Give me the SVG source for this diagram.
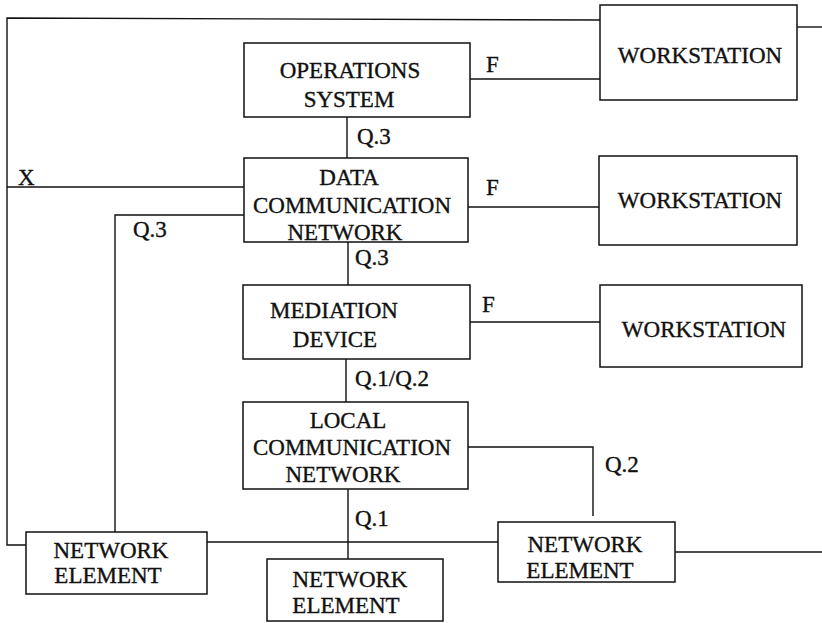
<svg xmlns="http://www.w3.org/2000/svg" width="822" height="623" viewBox="0 0 822 623">
<style>
.box{fill:none;stroke:#111;stroke-width:1.5}
.ln{fill:none;stroke:#111;stroke-width:1.4}
text{font-family:"Liberation Serif","Times New Roman",serif;font-size:23px;fill:#111;stroke:#111;stroke-width:0.35}
.c{text-anchor:middle}
</style>
<rect width="822" height="623" fill="#fff"/>
<g id="connectors">
<polyline class="ln" points="600,20 7,18 7,545 26,545"/>
<line class="ln" x1="797" y1="27" x2="822" y2="27"/>
<line class="ln" x1="470" y1="79" x2="600" y2="79"/>
<line class="ln" x1="347" y1="117" x2="347" y2="158"/>
<line class="ln" x1="7" y1="187" x2="244" y2="187"/>
<polyline class="ln" points="244,215 115,215 115,532"/>
<line class="ln" x1="468" y1="207" x2="599" y2="207"/>
<line class="ln" x1="348" y1="242" x2="348" y2="285"/>
<line class="ln" x1="470" y1="322" x2="600" y2="322"/>
<line class="ln" x1="346" y1="359" x2="346" y2="402"/>
<polyline class="ln" points="468,447 593,447 593,516"/>
<line class="ln" x1="348" y1="489" x2="348" y2="559"/>
<line class="ln" x1="207" y1="542" x2="498" y2="542"/>
<line class="ln" x1="675" y1="552" x2="822" y2="552"/>
<text x="18" y="185">X</text>
<text x="486" y="72">F</text>
<text x="486" y="195">F</text>
<text x="482" y="312">F</text>
<text x="357" y="144">Q.3</text>
<text x="133" y="237">Q.3</text>
<text x="355" y="265">Q.3</text>
<text x="355" y="386">Q.1/Q.2</text>
<text x="605" y="472">Q.2</text>
<text x="355" y="526">Q.1</text>
</g>
<g id="operations-system">
<rect class="box" x="244" y="43" width="226" height="74"/>
<text class="c" x="350" y="78">OPERATIONS</text>
<text class="c" x="349" y="107">SYSTEM</text>
</g>
<g id="workstation-1">
<rect class="box" x="600" y="5" width="197" height="95"/>
<text class="c" x="700" y="63">WORKSTATION</text>
</g>
<g id="dcn">
<rect class="box" x="244" y="158" width="224" height="84"/>
<text class="c" x="349" y="185">DATA</text>
<text class="c" x="352" y="213">COMMUNICATION</text>
<text class="c" x="345" y="240">NETWORK</text>
</g>
<g id="workstation-2">
<rect class="box" x="599" y="156" width="198" height="89"/>
<text class="c" x="700" y="208">WORKSTATION</text>
</g>
<g id="mediation-device">
<rect class="box" x="243" y="285" width="227" height="74"/>
<text class="c" x="334" y="318">MEDIATION</text>
<text class="c" x="335" y="347">DEVICE</text>
</g>
<g id="workstation-3">
<rect class="box" x="600" y="285" width="202" height="82"/>
<text class="c" x="704" y="337">WORKSTATION</text>
</g>
<g id="lcn">
<rect class="box" x="243" y="402" width="225" height="87"/>
<text class="c" x="348" y="428">LOCAL</text>
<text class="c" x="352" y="455">COMMUNICATION</text>
<text class="c" x="343" y="482">NETWORK</text>
</g>
<g id="network-element-left">
<rect class="box" x="26" y="532" width="181" height="62"/>
<text class="c" x="111" y="558">NETWORK</text>
<text class="c" x="108" y="583">ELEMENT</text>
</g>
<g id="network-element-bottom">
<rect class="box" x="267" y="559" width="176" height="62"/>
<text class="c" x="350" y="587">NETWORK</text>
<text class="c" x="346" y="613">ELEMENT</text>
</g>
<g id="network-element-right">
<rect class="box" x="498" y="522" width="177" height="60"/>
<text class="c" x="585" y="552">NETWORK</text>
<text class="c" x="580" y="578">ELEMENT</text>
</g>
</svg>
